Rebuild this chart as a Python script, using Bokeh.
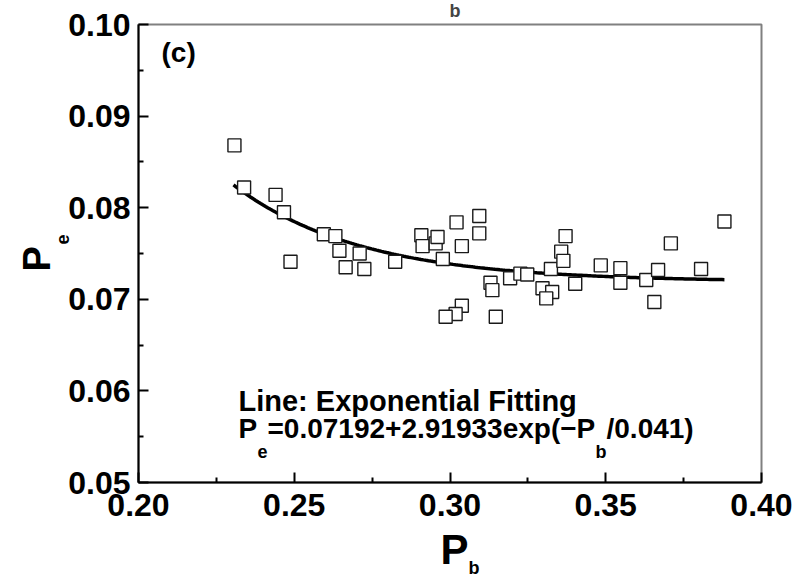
import numpy as np
from bokeh.plotting import figure
from bokeh.models import Range1d, FixedTicker, Label, PrintfTickFormatter, Title
from bokeh.embed import file_html
from bokeh.resources import INLINE

# ---- data ----
pb = [0.2308, 0.2339, 0.2440, 0.2467, 0.2488, 0.2595, 0.2632, 0.2645, 0.2710, 0.2665,
      0.2725, 0.2824, 0.2908, 0.2912, 0.2954, 0.2960, 0.2977, 0.3021, 0.3038, 0.3094,
      0.3094, 0.3038, 0.3018, 0.2986, 0.3147, 0.3130, 0.3136, 0.3193, 0.3226, 0.3248,
      0.3324, 0.3297, 0.3328, 0.3309, 0.3371, 0.3357, 0.3364, 0.3402, 0.3484, 0.3547,
      0.3547, 0.3630, 0.3668, 0.3656, 0.3709, 0.3806, 0.3881]
pe = [0.0868, 0.0822, 0.0814, 0.0795, 0.0741, 0.0771, 0.0769, 0.0753, 0.0750, 0.0735,
      0.0733, 0.0741, 0.0770, 0.0758, 0.0761, 0.0768, 0.0744, 0.0784, 0.0758, 0.0791,
      0.0772, 0.0693, 0.0684, 0.0681, 0.0681, 0.0718, 0.0710, 0.0723, 0.0728, 0.0727,
      0.0733, 0.0712, 0.0708, 0.0701, 0.0769, 0.0752, 0.0742, 0.0717, 0.0737, 0.0734,
      0.0718, 0.0721, 0.0732, 0.0697, 0.0761, 0.0733, 0.0785]

# exponential fit shown on the chart: Pe = a + b*exp(-Pb/t)
fit_a, fit_b, fit_t = 0.07192, 2.91933, 0.041
fit_start, fit_end = 0.2305, 0.3881

x_ticks = [0.20, 0.25, 0.30, 0.35, 0.40]
x_minor = [0.225, 0.275, 0.325, 0.375]
y_ticks = [0.05, 0.06, 0.07, 0.08, 0.09, 0.10]
y_minor = [0.055, 0.065, 0.075, 0.085, 0.095]

# ---- layout (canvas pixels) ----
W, H = 800, 580
FL, FT, FW, FH = 138, 24, 623, 458
XMIN, XMAX, YMIN, YMAX = 0.20, 0.40, 0.05, 0.10

def sx(px):
    return XMIN + (px - FL) / FW * (XMAX - XMIN)

def sy(py):
    return YMAX - (py - FT) / FH * (YMAX - YMIN)

FONT = "Liberation Sans"

p = figure(frame_width=FW, frame_height=FH,
           x_range=Range1d(XMIN, XMAX), y_range=Range1d(YMIN, YMAX),
           output_backend="svg", toolbar_location=None,
           min_border_left=FL, min_border_right=W - FL - FW,
           min_border_top=FT, min_border_bottom=H - FT - FH)
p.background_fill_color = "white"
p.border_fill_color = "white"
p.grid.visible = False
p.outline_line_color = "#808080"
p.outline_line_width = 2

for ax, ticks, minor in ((p.xaxis[0], x_ticks, x_minor), (p.yaxis[0], y_ticks, y_minor)):
    ax.ticker = FixedTicker(ticks=ticks, minor_ticks=minor)
    ax.formatter = PrintfTickFormatter(format="%.2f")
    ax.axis_line_color = "black"
    ax.axis_line_width = 2
    ax.major_tick_line_color = "black"
    ax.major_tick_line_width = 2
    ax.minor_tick_line_color = "black"
    ax.minor_tick_line_width = 2
    ax.major_tick_in = 10
    ax.major_tick_out = 0
    ax.minor_tick_in = 5
    ax.minor_tick_out = 0
    ax.major_label_text_font = FONT
    ax.major_label_text_font_style = "bold"
    ax.major_label_text_font_size = "32px"
    ax.major_label_text_color = "black"
p.xaxis[0].major_label_standoff = 11
p.yaxis[0].major_label_standoff = 8

# fit curve
fx = np.linspace(fit_start, fit_end, 200)
fy = fit_a + fit_b * np.exp(-fx / fit_t)
p.line(fx, fy, line_color="black", line_width=3.5)

# data squares
p.scatter(pb, pe, marker="square", size=13, fill_color="white",
          line_color="#1a1a1a", line_width=1.4)

DY = 5  # rendered baseline sits a few px low; compensate

def lab(text, px, py, size):
    p.add_layout(Label(x=sx(px), y=sy(py - DY), text=text, text_font=FONT,
                       text_font_style="bold", text_font_size=f"{size}px",
                       text_color="black", text_baseline="alphabetic",
                       text_align="left"))

# panel tag
lab("(c)", 161, 57, 28)

# annotation
lab("Line: Exponential Fitting", 238, 405, 29)
lab("P", 238, 433, 28)
lab("e", 257, 456, 18)
lab("=0.07192+2.91933exp(\u2212", 267, 433, 28)
lab("P", 576, 433, 28)
lab("b", 595, 456, 18)
lab("/0.041)", 606, 433, 28)

def title(text, size, offset, standoff, valign):
    return Title(text=text, align="left", offset=offset, standoff=standoff,
                 vertical_align=valign, text_font=FONT, text_font_style="bold",
                 text_font_size=f"{size}px", text_color="black")

# x axis title  P_b
p.add_layout(title("P", 42, 440 - FL, 10, "bottom"), "below")
p.add_layout(title("b", 18, 468 - FL, -40, "top"), "below")

# y axis title  P_e (rotated)
p.add_layout(title("e", 18, FT + FH - 244, -6, "bottom"), "left")
p.add_layout(title("P", 38, FT + FH - 271, -2, "bottom"), "left")

# clipped top title remnant (P_b above the frame)
p.title.text = "b"
p.title.align = "left"
p.title.offset = 449 - FL
p.title.standoff = 1.9
p.title.vertical_align = "top"
p.title.text_font = FONT
p.title.text_font_style = "bold"
p.title.text_font_size = "18px"

open("out.html", "w").write(file_html(p, INLINE))
